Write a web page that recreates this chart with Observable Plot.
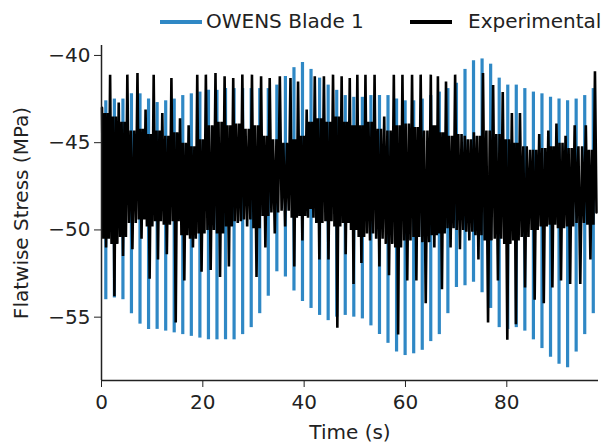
<!DOCTYPE html>
<html><head><meta charset="utf-8">
<script src="https://cdn.jsdelivr.net/npm/d3@7"></script>
<script src="https://cdn.jsdelivr.net/npm/@observablehq/plot@0.6"></script>
<style>
body{margin:0;background:#fff;font-family:"DejaVu Sans",sans-serif;}
#wrap{position:relative;width:609px;height:442px;overflow:hidden;}
#legend{position:relative;height:35px;font-size:20px;color:#222;}
.sw{position:absolute;top:20px;height:3.5px;}
.lt{position:absolute;top:9px;line-height:24px;white-space:nowrap;}
</style></head><body>
<div id="wrap">
<div id="legend"></div>
<div id="chart"></div>
</div>
<script>
// Blue (OWENS Blade 1): one stripe per cycle, time, max, min
const blueTime = [0.85,2.54,4.23,5.91,7.60,9.29,10.98,12.67,14.35,16.04,17.73,19.42,21.11,22.79,24.48,26.17,27.86,29.55,31.23,32.92,34.61,36.30,37.99,39.67,41.36,43.05,44.74,46.43,48.11,49.80,51.49,53.18,54.87,56.55,58.24,59.93,61.62,63.31,64.99,66.68,68.37,70.06,71.75,73.43,75.12,76.81,78.50,80.19,81.87,83.56,85.25,86.94,88.63,90.31,92.00,93.69,95.38,97.07];
const blueMax = [-42.6,-42.5,-42.5,-42.2,-42.2,-42.5,-42.7,-42.6,-42.5,-42.3,
  -42.2,-42.1,-42.0,-42.0,-41.9,-41.9,-41.9,-41.9,-41.9,-41.9,
  -41.7,-41.2,-40.7,-40.4,-40.8,-41.3,-41.7,-42.0,-42.3,-42.4,
  -42.4,-42.3,-42.3,-42.3,-42.5,-42.6,-42.6,-42.5,-42.3,-42.1,
  -41.9,-41.6,-40.8,-40.3,-40.2,-40.5,-41.3,-41.7,-41.7,-41.9,
  -42.1,-42.2,-42.4,-42.5,-42.6,-42.5,-42.3,-41.9];
const blueMin = [-54.0,-53.9,-54.0,-54.8,-55.4,-55.7,-55.7,-55.8,-55.9,-56.0,
  -56.1,-56.2,-56.3,-56.3,-56.3,-56.3,-56.0,-55.6,-54.8,-53.8,
  -52.4,-52.7,-53.5,-54.1,-54.5,-54.9,-55.2,-55.0,-54.9,-55.0,
  -55.1,-55.5,-56.0,-56.5,-57.0,-57.2,-57.1,-56.9,-56.4,-56.0,
  -54.8,-53.3,-53.2,-53.0,-53.6,-54.5,-55.6,-55.7,-55.6,-55.8,
  -56.3,-56.8,-57.3,-57.7,-57.9,-57.0,-56.0,-54.8];

// Black (Experimental): per cycle peak time, spike peak, spike trough, inner band high / low
const expTime = [0.1,1.7,3.4,5.1,7.1,8.7,10.3,12.0,13.8,15.5,17.2,18.9,20.6,22.5,24.3,26.0,27.8,29.7,31.5,33.2,35.2,37.3,38.8,40.5,42.1,43.9,45.7,47.4,49.0,50.5,52.1,53.9,55.8,57.7,59.4,61.3,63.0,65.0,66.4,68.0,69.8,71.7,73.5,75.3,77.3,79.2,81.0,82.6,84.6,86.4,88.2,89.8,91.6,93.4,95.6,97.4];
const expPeak = [-43.0,-41.1,-42.7,-41.1,-41.0,-43.1,-41.1,-43.3,-41.3,-43.6,
  -44.0,-41.1,-41.1,-41.0,-41.2,-41.3,-41.1,-41.1,-41.2,-41.3,
  -41.2,-41.3,-41.5,-43.1,-41.2,-41.2,-41.1,-41.2,-41.3,-41.1,
  -41.1,-41.1,-43.5,-41.1,-41.1,-41.1,-41.1,-41.1,-41.2,-41.5,
  -41.1,-44.6,-44.4,-41.0,-41.7,-42.1,-43.3,-43.3,-45.4,-44.5,
  -44.3,-43.9,-44.6,-44.0,-44.0,-40.9];
const expTrough = [-51.0,-53.8,-51.5,-51.1,-50.5,-52.8,-51.7,-51.4,-55.3,-52.9,
  -51.0,-52.4,-52.3,-52.7,-52.1,-49.6,-49.8,-52.7,-51.0,-50.2,
  -49.8,-52.1,-50.6,-48.8,-51.7,-51.7,-55.6,-51.4,-53.1,-51.9,
  -50.6,-52.1,-52.6,-56.0,-52.9,-52.9,-54.2,-51.0,-53.4,-51.0,
  -51.1,-50.6,-51.7,-55.3,-52.9,-56.3,-55.4,-53.3,-54.0,-54.2,
  -53.3,-52.9,-53.1,-53.1,-51.7,-49.0];
const expBandHigh = [-43.3,-43.5,-43.8,
  -44.3,-44.2,-44.5,-44.3,-44.6,-44.4,
  -45.0,-45.2,-44.8,
  -44.0,-43.8,-44.0,-43.9,-44.2,-44.0,
  -44.6,-44.8,-45.0,-44.8,-44.6,
  -43.8,-43.6,-43.8,-43.5,-43.8,-44.0,
  -44.0,-43.8,-44.2,-44.3,-44.0,-43.9,-44.1,-44.3,-44.0,
  -44.4,-44.6,-44.5,-44.8,-44.6,
  -44.3,-44.5,-44.8,-45.0,-45.2,
  -45.4,-45.3,-45.2,-45.0,-45.3,-45.2,-45.4,-45.0];
const expBandLow = [-50.5,-50.8,-50.4,
  -49.6,-49.4,-49.8,-49.5,-49.7,-49.5,
  -50.3,-50.5,-50.2,
  -50.0,-50.2,-49.8,-49.5,-49.4,-49.9,
  -49.2,-49.0,-48.9,-49.3,-49.2,
  -49.3,-49.6,-49.5,-49.8,-49.6,-50.0,
  -50.4,-50.2,-50.5,-50.8,-51.0,-50.6,-50.4,-50.7,-50.3,
  -50.2,-49.9,-50.0,-50.1,-50.3,
  -50.6,-50.5,-50.8,-50.6,-50.4,
  -50.0,-49.8,-49.7,-49.9,-49.8,-49.6,-49.7,-49.5];

const xTicks = [0, 20, 40, 60, 80];
const yTicks = [-40, -45, -50, -55];
const xDomain = [0, 98.1];
const yDomain = [-58.63, -39.43];
const seriesNames = ["OWENS Blade 1", "Experimental"];
const seriesColors = ["#2f88c5", "#000000"];

// tables for the library
const blue = blueTime.map((t, i) => ({t, hi: blueMax[i], lo: blueMin[i]}));
const exp = [];
const N = expTime.length;
for (let c = 0; c < N; c++) {
  const t = expTime[c];
  if (c === N - 1) {
    exp.push({t, v: expPeak[c]});
    exp.push({t: t + 0.3, v: expTrough[c]});
    break;
  }
  const d = (expTime[c + 1] - t) / 6;
  const seq = [expPeak[c], expBandLow[c], expBandHigh[c], expTrough[c], expBandHigh[c], expBandLow[c]];
  seq.forEach((v, k) => exp.push({t: t + k * d, v}));
}

// legend
const lg = document.getElementById("legend");
const swX = [160, 410], txX = [206, 468];
seriesNames.forEach((n, i) => {
  const s = document.createElement("div");
  s.className = "sw"; s.style.left = swX[i] + "px"; s.style.width = "42px"; s.style.background = seriesColors[i];
  lg.appendChild(s);
  const t = document.createElement("div");
  t.className = "lt"; t.style.left = txX[i] + "px"; t.textContent = n;
  lg.appendChild(t);
});

const chart = Plot.plot({
  width: 609, height: 407,
  marginTop: 10, marginBottom: 62, marginLeft: 101, marginRight: 11,
  x: {domain: xDomain},
  y: {domain: yDomain},
  style: {fontFamily: "DejaVu Sans, sans-serif", fontSize: "20px", color: "#222", background: "white", overflow: "visible"},
  marks: [
    Plot.ruleX(blue, {x: "t", y1: "lo", y2: "hi", stroke: seriesColors[0], strokeWidth: 3.2}),
    Plot.line(exp, {x: "t", y: "v", stroke: seriesColors[1], strokeWidth: 2.6, strokeLinejoin: "miter"}),
    Plot.axisX({ticks: xTicks, tickSize: 7, tickPadding: 7, tickFormat: d3.format("d"), label: "Time (s)", labelAnchor: "center", labelOffset: 58, labelArrow: false}),
    Plot.axisY({ticks: yTicks, tickSize: 7, tickPadding: 4, tickFormat: d3.format("d"), label: "Flatwise Stress (MPa)", labelAnchor: "center", labelOffset: 88, labelArrow: false}),
    Plot.ruleX([xDomain[0]], {stroke: "#222", strokeWidth: 1.5}),
    Plot.ruleY([yDomain[0]], {stroke: "#222", strokeWidth: 1.5})
  ]
});
document.getElementById("chart").appendChild(chart);
</script>
</body></html>
